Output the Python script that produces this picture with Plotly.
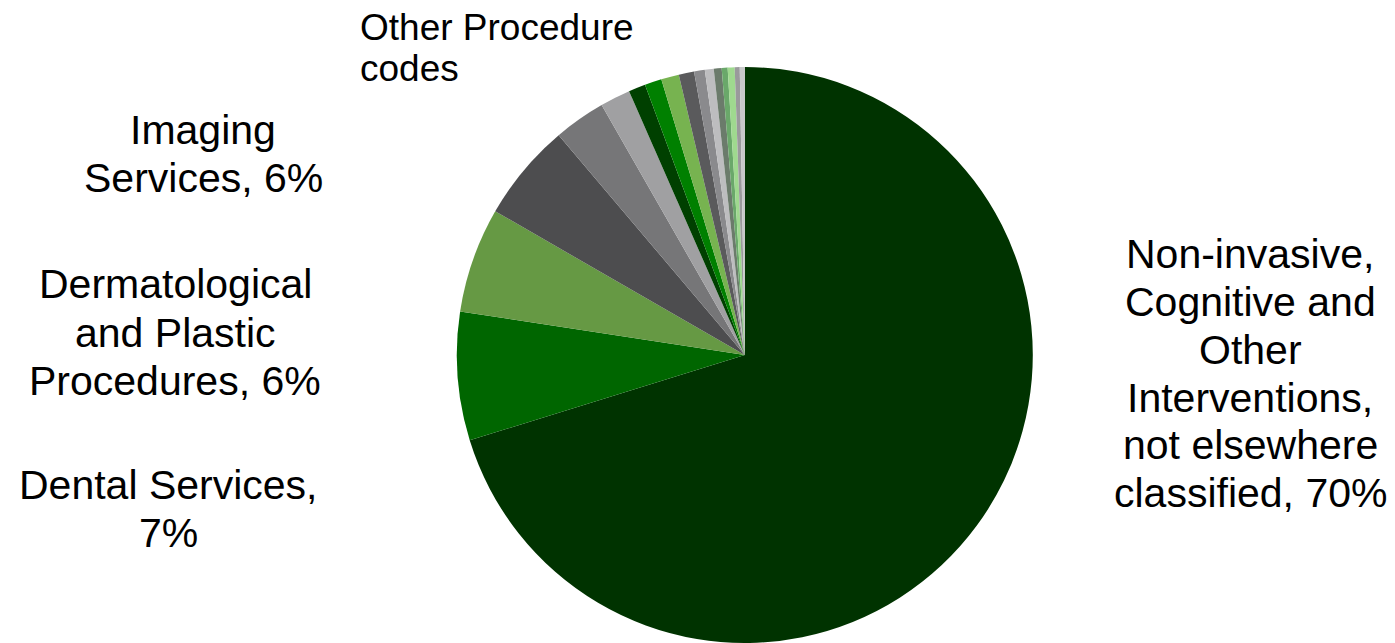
import plotly.graph_objects as go

# ---- data ----
categories = [
    "Non-invasive, Cognitive and Other Interventions, not elsewhere classified",
    "Dental Services",
    "Dermatological and Plastic Procedures",
    "Imaging Services",
    "Other code 1", "Other code 2", "Other code 3", "Other code 4",
    "Other code 5", "Other code 6", "Other code 7", "Other code 8",
    "Other code 9", "Other code 10", "Other code 11", "Other code 12",
    "Other code 13",
]
values = [70.2, 7.2, 5.9, 5.5, 2.9, 1.7, 0.95, 0.95, 1.0, 0.86, 0.6, 0.5,
          0.44, 0.33, 0.39, 0.28, 0.28]
colors = ["#003300", "#006600", "#669944", "#4d4d4f", "#767678", "#a0a0a2",
          "#004000", "#008000", "#77b350", "#5a5a5c", "#8a8a8d", "#bdbdbf",
          "#6b7b6b", "#6aa86a", "#9fd98f", "#9a9a9c", "#c8c8ca"]

# label text lines
label_right = ["Non-invasive,", "Cognitive and", "Other", "Interventions,",
               "not elsewhere", "classified, 70%"]
label_imaging = ["Imaging", "Services, 6%"]
label_derm = ["Dermatological", "and Plastic", "Procedures, 6%"]
label_dental = ["Dental Services,", "7%"]
label_other = ["Other Procedure", "codes"]

W, H = 1395, 643
FONT = "Liberation Sans, Arial, sans-serif"

fig = go.Figure()
fig.add_trace(go.Pie(
    labels=categories, values=values, sort=False, direction="clockwise",
    rotation=0, textinfo="none", hoverinfo="label+percent",
    marker=dict(colors=colors, line=dict(width=0)),
    domain=dict(x=[(744.8 - 288) / W, (744.8 + 288) / W], y=[0, 1 - 67 / H]),
    showlegend=False,
))

annotations = []


def add_lines(lines, x, first_baseline, spacing, size, align="center"):
    for i, t in enumerate(lines):
        base = first_baseline + i * spacing
        ymid = base - 0.30 * size
        annotations.append(dict(
            text=t, xref="paper", yref="paper",
            x=x / W, y=1 - ymid / H,
            xanchor="center" if align == "center" else "left",
            yanchor="middle", showarrow=False,
            font=dict(family=FONT, size=size, color="#000000"),
        ))


add_lines(label_right, 1250, 266.7, 47.7, 41)
add_lines(label_imaging, 203, 142.7, 47.7, 41)
add_lines(label_derm, 175, 296.7, 48.2, 41)
add_lines(label_dental, 168, 497, 48, 41)
add_lines(label_other, 358, 39, 41, 37, align="left")

fig.update_layout(
    width=W, height=H, margin=dict(l=0, r=0, t=0, b=0),
    paper_bgcolor="white", plot_bgcolor="white",
    annotations=annotations,
)

fig.write_html("out.html")
